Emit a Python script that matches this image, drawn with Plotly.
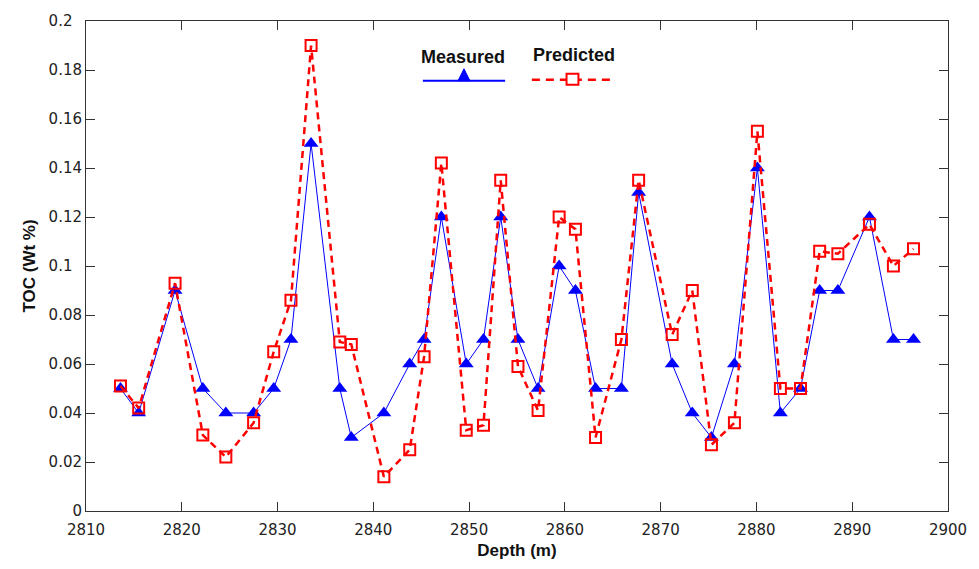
import plotly.graph_objects as go

depth = [2813.6, 2815.5, 2819.3, 2822.2, 2824.6, 2827.5, 2829.6, 2831.4, 2833.5, 2836.5,
         2837.7, 2841.1, 2843.8, 2845.3, 2847.1, 2849.7, 2851.5, 2853.3, 2855.1, 2857.2,
         2859.4, 2861.1, 2863.2, 2865.9, 2867.7, 2871.2, 2873.3, 2875.3, 2877.7, 2880.1,
         2882.5, 2884.6, 2886.6, 2888.5, 2891.8, 2894.3, 2896.4]

measured = [0.05, 0.04, 0.09, 0.05, 0.04, 0.04, 0.05, 0.07, 0.15, 0.05,
            0.03, 0.04, 0.06, 0.07, 0.12, 0.06, 0.07, 0.12, 0.07, 0.05,
            0.10, 0.09, 0.05, 0.05, 0.13, 0.06, 0.04, 0.03, 0.06, 0.14,
            0.04, 0.05, 0.09, 0.09, 0.12, 0.07, 0.07]

predicted = [0.051, 0.042, 0.093, 0.031, 0.022, 0.036, 0.065, 0.086, 0.190, 0.069,
             0.068, 0.014, 0.025, 0.063, 0.142, 0.033, 0.035, 0.135, 0.059, 0.041,
             0.120, 0.115, 0.030, 0.070, 0.135, 0.072, 0.090, 0.027, 0.036, 0.155,
             0.050, 0.050, 0.106, 0.105, 0.117, 0.100, 0.107]

x_ticks = [2810, 2820, 2830, 2840, 2850, 2860, 2870, 2880, 2890, 2900]
y_ticks = [0, 0.02, 0.04, 0.06, 0.08, 0.1, 0.12, 0.14, 0.16, 0.18, 0.2]
y_ticktext = ["0", "0.02", "0.04", "0.06", "0.08", "0.1\u2007", "0.12", "0.14", "0.16", "0.18", "0.2\u2007"]

fig = go.Figure()
fig.add_trace(go.Scatter(
    x=depth, y=measured, mode="lines+markers", name="Measured",
    line=dict(color="#0000FF", width=1),
    marker=dict(symbol="triangle-up", size=13, color="#0000FF", line=dict(width=0)),
    showlegend=False))
fig.add_trace(go.Scatter(
    x=depth, y=predicted, mode="lines+markers", name="Predicted",
    line=dict(color="#FF0000", width=2.5, dash="7px,5px"),
    marker=dict(symbol="square-open", size=11, color="#FF0000", line=dict(width=2, color="#FF0000")),
    showlegend=False))

font_tick = "DejaVu Sans, Arial, sans-serif"
font_bold = "Liberation Sans, Arial, sans-serif"
axis_common = dict(showline=True, linecolor="#333333", linewidth=1, mirror="ticks",
                   ticks="inside", ticklen=9, tickcolor="#333333", showgrid=False,
                   zeroline=False, tickfont=dict(family=font_tick, size=15, color="#222222"))

fig.update_xaxes(range=[2810, 2900], tickvals=x_ticks, ticklabelstandoff=5,
                 title=dict(text="<b>Depth (m)</b>", font=dict(family=font_bold, size=17, color="#111111"), standoff=6),
                 **axis_common)
fig.update_yaxes(range=[0, 0.2], tickvals=y_ticks, ticktext=y_ticktext,
                 title=dict(text="<b>TOC (Wt %)</b>", font=dict(family=font_bold, size=17, color="#111111"), standoff=8),
                 **axis_common)

# Legend drawn manually (text above sample line)
def px_x(p):
    return (p - 86) / 870.0

def px_y(p):
    return (511 - p) / 492.0

shapes = [
    dict(type="line", xref="paper", yref="paper", x0=px_x(426), x1=px_x(509), y0=px_y(79), y1=px_y(79),
         line=dict(color="#0000FF", width=2)),
    dict(type="path", xref="paper", yref="paper",
         path=f"M {px_x(461.5)} {px_y(79)} L {px_x(473.5)} {px_y(79)} L {px_x(467.5)} {px_y(67)} Z",
         fillcolor="#0000FF", line=dict(color="#0000FF", width=1)),
    dict(type="line", xref="paper", yref="paper", x0=px_x(536), x1=px_x(620), y0=px_y(78), y1=px_y(78),
         line=dict(color="#FF0000", width=2.5, dash="8px,6px")),
    dict(type="rect", xref="paper", yref="paper", x0=px_x(571), x1=px_x(583), y0=px_y(72), y1=px_y(83),
         fillcolor="white", line=dict(color="#FF0000", width=2)),
]
annotations = [
    dict(text="<b>Measured</b>", xref="paper", yref="paper", x=px_x(466), y=px_y(55),
         xanchor="center", yanchor="middle",
         showarrow=False, font=dict(family=font_bold, size=18, color="#111111")),
    dict(text="<b>Predicted</b>", xref="paper", yref="paper", x=px_x(579), y=px_y(53),
         xanchor="center", yanchor="middle",
         showarrow=False, font=dict(family=font_bold, size=18, color="#111111")),
]

fig.update_layout(
    width=979, height=569,
    margin=dict(l=86, r=23, t=19, b=58),
    paper_bgcolor="white", plot_bgcolor="white",
    shapes=shapes, annotations=annotations,
    showlegend=False,
)

fig.write_html("out.html")
